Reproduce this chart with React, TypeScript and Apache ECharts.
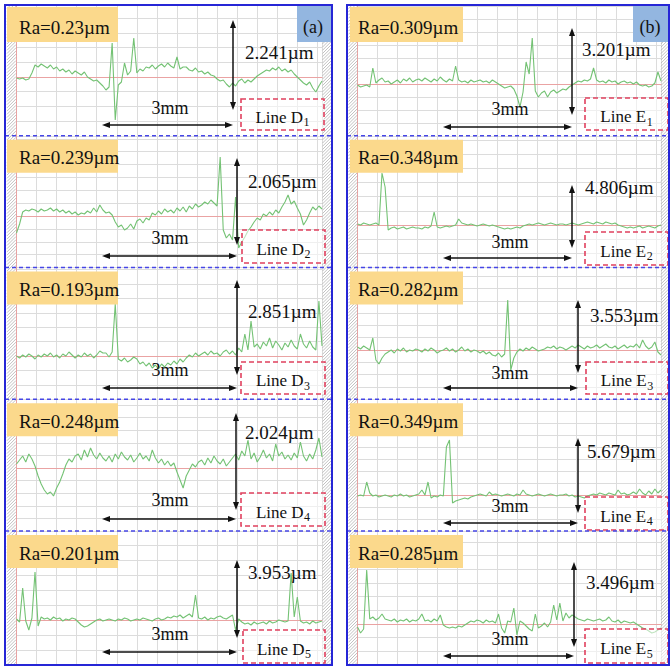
import React, { useEffect, useRef } from 'react';
import * as echarts from 'echarts';

// ---------------- data ----------------
const panelTags = ['(a)', '(b)'];
const lineLetters = ['D', 'E'];
const lineIndices = ['1', '2', '3', '4', '5'];
const scanLength = '3mm';
const raD = ['Ra=0.23µm', 'Ra=0.239µm', 'Ra=0.193µm', 'Ra=0.248µm', 'Ra=0.201µm'];
const raE = ['Ra=0.309µm', 'Ra=0.348µm', 'Ra=0.282µm', 'Ra=0.349µm', 'Ra=0.285µm'];
const peakD = ['2.241µm', '2.065µm', '2.851µm', '2.024µm', '3.953µm'];
const peakE = ['3.201µm', '4.806µm', '3.553µm', '5.679µm', '3.496µm'];

// profile heights (relative units, up = positive), 100 samples across the trace
const profileD1 = [
  -1, -2, -1, -3, -2, 4, 12, 10, 13, 11,
  9, 12, 8, 10, 6, 8, 5, 7, 3, 6,
  4, 2, 5, 0, -2, -4, -3, -6, -9, -13,
  -10, 34, -43, -8, -5, 14, 2, 6, 39, 4,
  8, 6, 10, 9, 12, 8, 11, 13, 10, 14,
  11, 9, 20, 8, 10, 10, 7, 6, 9, 5,
  6, 3, 5, 2, 1, -2, -4, -3, -7, -10,
  -6, -9, -4, -2, -6, -3, -5, -2, 1, 3,
  5, 7, 6, 9, 7, 10, 6, 8, 5, 7,
  3, 0, -3, -6, -8, -5, -11, -15, -9, -4,
];
const profileD2 = [
  -17, -8, 4, 6, 5, 7, 6, 4, 7, 5,
  6, 8, 5, 7, 4, 6, 3, 5, 2, 4,
  1, 3, 2, 5, 3, 8, 4, 11, 6, 3,
  4, 1, -6, -11, -9, -14, -12, -8, -13, -5,
  -3, -7, -2, -4, 3, 1, 5, 2, 7, 4,
  6, 3, 8, 5, 9, 4, 10, 7, 12, 9,
  11, 14, 12, 16, 13, 10, 59, -14, -22, -18,
  -24, 19, -32, -26, -21, -15, -11, -6, -2, -4,
  2, 0, 4, 1, 6, 3, 9, 14, 21, 12,
  15, 8, 2, -9, -4, 3, 9, 6, 10, 7,
];
const profileD3 = [
  0, -2, 1, -1, 2, 0, -3, 1, -1, 2,
  0, 3, -1, 1, -2, 2, 0, 4, 1, -2,
  1, -1, 3, 0, 2, -2, 1, 5, 3, 3,
  -1, 4, 52, -3, -5, -2, -6, -4, -1, -3,
  -8, -6, -10, -7, -12, -9, -13, -8, -11, -7,
  -9, -5, -8, -3, -6, -2, 1, -1, 3, 0,
  2, 4, 1, 5, 2, 3, 0, 4, 6, 2,
  5, 1, 8, 4, 22, 6, 35, 9, 12, 7,
  14, 10, 18, 8, 15, 11, 6, 13, 9, 16,
  10, 7, 22, 12, 8, 15, 9, 6, 55, 10,
];
const profileD4 = [
  4, 8, 12, 6, 14, 9, 2, -8, -16, -22,
  -26, -24, -28, -20, -14, -6, 3, 9, 6, 12,
  14, 8, 18, 11, 20, 13, 9, 15, 10, 7,
  12, 6, 14, 9, 16, 11, 8, 13, 6, 10,
  15, 9, 12, 7, 18, 10, 5, 9, 3, 7,
  2, 5, -4, -12, -20, -8, -2, 4, 1, 6,
  8, 3, 10, 5, 12, 7, 4, 9, 2, 6,
  10, 14, 8, 17, 12, 28, 9, 15, 6, 11,
  18, 10, 14, 7, 24, 12, 16, 9, 13, 8,
  15, 10, 26, 12, 7, 14, 9, 18, 30, 11,
];
const profileD5 = [
  1, -2, 32, -1, -10, 2, 48, -6, 3, 1,
  2, 0, 3, 1, 2, -1, 1, 0, 2, 1,
  -2, -5, -7, -6, -4, -2, 0, 1, -1, 0,
  1, 0, -1, 1, 0, 2, 1, -1, 0, 1,
  0, 2, 1, 0, -1, 1, 2, 0, 1, 3,
  2, 4, 3, 5, 2, 4, 6, 3, 25, 2,
  1, 3, 0, 2, 1, 3, 4, 2, 1, 3,
  5, -10, 1, -2, -4, -3, -5, -2, -4, -3,
  -2, -4, -1, -3, -2, 0, -1, -2, -1, 47,
  3, 23, -1, -3, -2, -4, -1, -3, -2, -1,
];
const profileE1 = [
  -1, -3, -2, -1, -3, 16, 1, 4, 6, 2,
  3, 0, 2, 4, 1, 5, 3, 6, 2, 4,
  5, 3, 6, 4, 2, 5, 3, 7, 4, 2,
  5, 3, 18, 4, 2, 3, 1, 4, 2, 3,
  4, 2, 3, 1, 4, 2, 0, -2, -4, -3,
  -2, -5, -12, -23, -8, 22, 10, 46, -7, -13,
  -9, -7, -13, -8, -6, -9, -7, -5, -6, -3,
  -1, 1, 3, 2, 4, 3, 5, 16, 4, 2,
  3, 1, 4, 2, 3, 0, 2, 3, 1, 2,
  0, 2, -1, -2, -1, -3, -2, 1, 12, 3,
];
const profileE2 = [
  1, 0, 2, 1, 0, 1, 2, 0, 52, 38,
  -5, -3, -2, -4, -3, -2, -4, -3, -2, -3,
  -3, -4, -2, -3, -1, 13, -2, -3, -2, -1,
  -2, -1, 0, 6, 2, 1, 0, 1, 0, -1,
  0, 1, 0, -1, 0, -1, -2, -3, -4, -3,
  -4, -3, -2, -3, -1, 0, 1, 0, 1, 2,
  1, 0, 1, 2, 1, 0, 1, 1, 0, 1,
  2, 1, 0, 1, 2, 3, 2, 1, 3, 2,
  1, 3, 2, 1, 2, 0, -1, -2, -3, -2,
  -3, -2, -1, -3, -2, -1, -2, -3, -1, 0,
];
const profileE3 = [
  3, 1, 4, 2, 0, 12, -10, -14, -8, -4,
  -2, 0, -3, 1, -1, 2, -2, 0, -1, 1,
  0, -2, 1, -1, 2, 0, -3, -1, 0, 2,
  -1, 1, -2, 0, 3, -1, 1, -2, 0, -1,
  -3, -1, -4, -2, -5, -6, -3, -7, -4, 50,
  -20, -8, -2, 1, -1, 2, 0, 3, 1, -1,
  0, 1, 3, 2, 4, 1, 3, 2, 0, 2,
  4, 2, 5, 3, 1, 4, 2, 3, 5, 2,
  4, 6, 3, 2, 4, 1, 3, 5, 2, 4,
  3, 6, 2, 10, 4, 1, 3, 8, -2, -5,
];
const profileE4 = [
  -1, 0, -1, 13, 2, -1, 0, -2, -1, 0,
  -1, -2, 0, -1, 1, -1, 0, -2, -1, 0,
  1, 5, 0, 13, -3, -1, -2, 0, -1, 48,
  55, -8, -6, -5, -4, -3, -4, -2, -1, 0,
  1, 0, -1, 3, 0, 1, 0, -1, 0, 1,
  0, -1, 1, 0, 5, 1, 0, -1, 0, 1,
  0, -1, 0, 1, 0, -1, 0, 0, 1, -1,
  0, -2, -1, -2, -3, -1, 0, 1, 0, 2,
  1, 0, 2, 1, 0, 5, 1, 2, 0, 1,
  3, 1, 6, 2, 0, 4, 1, 6, 2, 5,
];
const profileE5 = [
  -3, -9, -5, 54, 5, 7, 4, 6, 10, 5,
  4, 3, 5, 2, 4, 3, 5, 2, 4, 3,
  5, 10, 3, 4, 2, 5, 3, 9, -1, -3,
  -4, -3, -4, -2, -3, -1, 1, 3, 2, 4,
  3, 1, 4, 2, 3, 1, 10, -4, -9, 3,
  2, 16, -11, 3, 1, -2, -5, -7, 10, -4,
  -2, 1, -3, 2, 19, 4, 21, 3, 11, 6,
  9, 7, 5, 4, 3, 5, 4, 3, 4, 5,
  3, 4, 7, 3, 2, 4, 1, 3, 2, 1,
  2, 0, -2, -4, -5, -7, -9, -8, -6, -4,
];

const profilesD = [profileD1, profileD2, profileD3, profileD4, profileD5];
const profilesE = [profileE1, profileE2, profileE3, profileE4, profileE5];

// ---------------- layout / style ----------------
const FONT = '"Liberation Serif", "Times New Roman", serif';
const GREEN = '#74c274';
const PINK = '#eaa3a3';
const GRIDC = '#dcdcdc';
const BLUE = '#2626d6';
const RED = '#e0405e';
const YELLOW = '#fbd98c';
const TAGBLUE = '#93b6e0';
const ROW_EDGES = [5, 135.75, 267.5, 399.25, 531, 665];

type RowLayout = { pink: number; v: number[]; h: number[]; val: number[]; mm: number; box: number[] };
const PANELS: {
  x0: number; x1: number; plotL: number; plotR: number; hatchX: number[]; labelX: number; labelW: number;
  textX: number; tagX: number; tagW: number; mmX: number; rows: RowLayout[];
}[] = [
  {
    x0: 5, x1: 332, plotL: 16.5, plotR: 322, hatchX: [7, 322.5], labelX: 7, labelW: 111, textX: 19,
    tagX: 297, tagW: 35, mmX: 170,
    rows: [
      { pink: 77, v: [233, 20, 110], h: [125, 102, 233], val: [245, 52.5], mm: 107.5, box: [241, 99, 83, 31] },
      { pink: 216, v: [237, 158, 245], h: [256, 102, 237], val: [248, 181], mm: 237.5, box: [242, 230, 83, 33] },
      { pink: 356, v: [237, 280, 375], h: [388, 102, 237], val: [248, 311], mm: 370, box: [241, 362, 84, 32] },
      { pink: 468, v: [236, 413, 510], h: [519, 102, 236], val: [245, 432], mm: 500, box: [241, 493, 84, 33] },
      { pink: 620, v: [237, 560, 638], h: [652, 102, 237], val: [248, 572.5], mm: 634, box: [243, 630, 82, 33] },
    ],
  },
  {
    x0: 347, x1: 669, plotL: 357.5, plotR: 661, hatchX: [348.5, 661], labelX: 350, labelW: 113, textX: 358,
    tagX: 633, tagW: 36, mmX: 510,
    rows: [
      { pink: 84, v: [572, 28, 115], h: [127, 443, 572], val: [582, 49], mm: 109, box: [585, 98, 83, 32] },
      { pink: 225, v: [572, 185, 248], h: [258, 443, 572], val: [585, 187.5], mm: 242, box: [585, 232, 83, 33] },
      { pink: 350, v: [578, 300, 373], h: [388, 443, 578], val: [590, 315], mm: 373, box: [586, 362, 82, 32] },
      { pink: 495, v: [578, 438, 513], h: [523, 443, 578], val: [587, 451], mm: 506, box: [585, 497, 83, 33] },
      { pink: 624, v: [574, 562, 647], h: [656, 443, 574], val: [586, 582.5], mm: 639, box: [585, 629, 83, 34] },
    ],
  },
];

// hatch pattern path (strip 9px wide)
function hatchPath(w: number, h: number, s: number): string {
  let d = '';
  for (let c = s; c < h + w; c += s) {
    const xa = Math.max(0, c - h);
    const xb = Math.min(w, c);
    if (xb > xa) d += `M${xa.toFixed(2)} ${(c - xa).toFixed(2)}L${xb.toFixed(2)} ${(c - xb).toFixed(2)}`;
  }
  return d;
}
echarts.graphic.registerShape('hatchstrip', echarts.graphic.extendPath(hatchPath(9, 659, 3.2), {}) as any);

function txt(x: number, y: number, text: string, size: number, align = 'left', z = 30): any {
  return {
    type: 'text', x, y, z, silent: true,
    style: {
      text, fill: '#111', font: `${size}px ${FONT}`, fontSize: size, fontFamily: FONT,
      textAlign: align, textVerticalAlign: 'middle',
    },
  };
}

function arrowEls(x1: number, y1: number, x2: number, y2: number): any[] {
  const dx = x2 - x1, dy = y2 - y1;
  const len = Math.hypot(dx, dy);
  const ux = dx / len, uy = dy / len;
  const L = 8, W = 3;
  const head = (tx: number, ty: number, dxu: number, dyu: number) => {
    const bx = tx - dxu * L, by = ty - dyu * L;
    return {
      type: 'polygon', z: 25, silent: true,
      shape: { points: [[tx, ty], [bx - dyu * W, by + dxu * W], [bx + dyu * W, by - dxu * W]] },
      style: { fill: '#111' },
    };
  };
  return [
    {
      type: 'line', z: 25, silent: true,
      shape: { x1: x1 + ux * 4, y1: y1 + uy * 4, x2: x2 - ux * 4, y2: y2 - uy * 4 },
      style: { stroke: '#111', lineWidth: 1.5 },
    },
    head(x2, y2, ux, uy),
    head(x1, y1, -ux, -uy),
  ];
}

function buildOption(): any {
  const grids: any[] = [];
  const xAxes: any[] = [];
  const yAxes: any[] = [];
  const series: any[] = [];
  const els: any[] = [];
  const profileSets = [profilesD, profilesE];
  const raSets = [raD, raE];
  const peakSets = [peakD, peakE];

  let gi = 0;
  PANELS.forEach((P, p) => {
    P.hatchX.forEach((hx) => {
      els.push({
        type: 'hatchstrip', x: hx, y: 5.5, z: 1, silent: true,
        style: { stroke: '#a8a8a8', lineWidth: 0.7, fill: 'none' },
      });
    });
    P.rows.forEach((R, r) => {
      const top = ROW_EDGES[r];
      const bottom = ROW_EDGES[r + 1];
      const above = R.pink - top;
      const below = bottom - R.pink;
      const n = Math.max(1, Math.round(below / 14));
      const yInt = below / n;
      const data = profileSets[p][r];
      grids.push({
        left: P.plotL, top, width: P.plotR - P.plotL, height: bottom - top,
        containLabel: false, outerBoundsMode: 'none',
      });
      xAxes.push({
        type: 'value', gridIndex: gi, min: 0, max: data.length - 1, interval: 6.5,
        axisLine: { show: true, onZero: true, lineStyle: { color: PINK, width: 1 } },
        axisTick: { show: false }, axisLabel: { show: false },
        splitLine: { show: true, lineStyle: { color: GRIDC, width: 1 } },
      });
      yAxes.push({
        type: 'value', gridIndex: gi, min: -below, max: above, interval: yInt,
        axisLine: { show: true, onZero: true, lineStyle: { color: PINK, width: 1 } },
        axisTick: { show: false }, axisLabel: { show: false },
        splitLine: { show: true, lineStyle: { color: GRIDC, width: 1 } },
      });
      series.push({
        type: 'line', xAxisIndex: gi, yAxisIndex: gi, z: 3,
        data: data.map((v, i) => [i, v]),
        showSymbol: false, symbol: 'none', silent: true,
        lineStyle: { color: GREEN, width: 1.1 },
      });
      gi++;

      els.push({
        type: 'rect', z: 20, silent: true,
        shape: { x: P.labelX, y: top + (r === 0 ? 2 : 4), width: P.labelW, height: r === 0 ? 35 : 33 },
        style: { fill: YELLOW },
      });
      els.push(txt(P.textX, top + 22, raSets[p][r], 19, 'left'));
      els.push(...arrowEls(R.v[0], R.v[1], R.v[0], R.v[2]));
      els.push(txt(R.val[0], R.val[1], peakSets[p][r], 19, 'left'));
      els.push(...arrowEls(R.h[1], R.h[0], R.h[2], R.h[0]));
      els.push(txt(P.mmX, R.mm, scanLength, 18, 'center'));
      const [bx, by, bw, bh] = R.box;
      els.push({
        type: 'rect', z: 22, silent: true,
        shape: { x: bx, y: by, width: bw, height: bh },
        style: { fill: 'rgba(255,255,255,0.55)', stroke: RED, lineWidth: 1.6, lineDash: [5, 3] },
      });
      const cx = bx + bw / 2;
      const cy = by + bh / 2 + 2.5;
      const mainW = (lineLetters[p] === 'D' ? 2.805 : 2.694) * 17;
      const xe = cx + (mainW - 6.5) / 2;
      els.push(txt(xe, cy, 'Line ' + lineLetters[p], 17, 'right'));
      els.push(txt(xe + 0.5, cy + 5, lineIndices[r], 12, 'left'));
    });

    els.push({
      type: 'rect', z: 20, silent: true,
      shape: { x: P.tagX, y: 6, width: P.tagW, height: 36 },
      style: { fill: TAGBLUE },
    });
    els.push(txt(P.tagX + (p === 0 ? 16 : 17), 27, panelTags[p], 18, 'center'));

    for (let r = 1; r < 5; r++) {
      els.push({
        type: 'line', z: 40, silent: true,
        shape: { x1: P.x0, y1: ROW_EDGES[r], x2: P.x1, y2: ROW_EDGES[r] },
        style: { stroke: '#4646e6', lineWidth: 1.5, lineDash: [4, 3] },
      });
    }
    els.push({
      type: 'rect', z: 41, silent: true,
      shape: { x: P.x0, y: 5, width: P.x1 - P.x0, height: 660 },
      style: { fill: 'none', stroke: BLUE, lineWidth: 2 },
    });
  });

  return {
    animation: false,
    backgroundColor: '#ffffff',
    tooltip: { show: false },
    grid: grids,
    xAxis: xAxes,
    yAxis: yAxes,
    series,
    graphic: els,
  };
}

export default function App() {
  const ref = useRef<HTMLDivElement>(null);
  useEffect(() => {
    document.body.style.margin = '0';
    if (!ref.current) return;
    const chart = echarts.init(ref.current, undefined, { renderer: 'svg' });
    chart.setOption(buildOption());
    return () => chart.dispose();
  }, []);
  return (
    <div style={{ position: 'fixed', left: 0, top: 0, width: 670, height: 668, background: '#fff' }}>
      <div ref={ref} style={{ width: 670, height: 668 }} />
    </div>
  );
}
